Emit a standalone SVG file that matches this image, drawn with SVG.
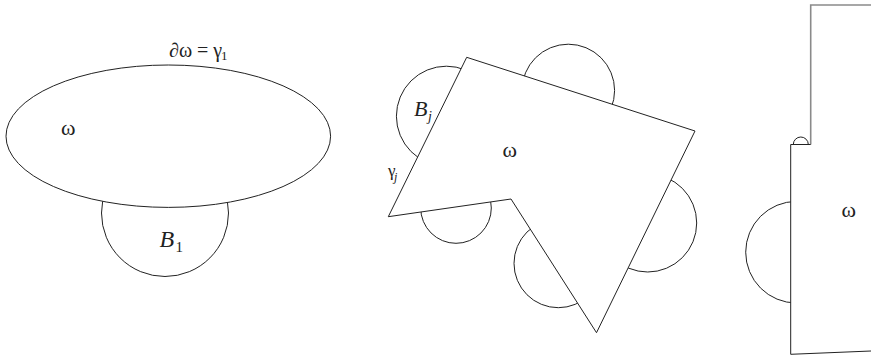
<svg xmlns="http://www.w3.org/2000/svg" width="871" height="359" viewBox="0 0 871 359">
<style>
.sh{fill:#fff;stroke:#222;stroke-width:1}
.cover{fill:#fff;stroke:none}
.ln{fill:none;stroke:#222;stroke-width:1}
.gray{fill:none;stroke:#8a8a8a;stroke-width:1.6}
.t{font-family:"Liberation Serif","Times New Roman",serif;fill:#222}
.it{font-style:italic}
.om{font-size:22px}
</style>
<rect width="871" height="359" fill="#fff"/>
<g id="left-domain">
<circle class="sh" cx="165" cy="213" r="63.5"/>
<ellipse class="sh" cx="168.3" cy="136.2" rx="162.3" ry="71.2"/>
<text class="t" x="169" y="56.7" font-size="20">∂ω = γ</text>
<text class="t" x="221" y="59.5" font-size="13">1</text>
<text class="t om" x="61" y="135">ω</text>
<text class="t it" x="159.5" y="246.7" font-size="24">B</text>
<text class="t" x="175.5" y="251.7" font-size="15">1</text>
</g>
<g id="middle-domain">
<circle class="sh" cx="446.4" cy="116.2" r="50"/>
<circle class="sh" cx="568.3" cy="90.5" r="46.3"/>
<circle class="sh" cx="647.7" cy="223" r="49"/>
<circle class="sh" cx="558.3" cy="263.4" r="44.3"/>
<circle class="sh" cx="456" cy="208" r="35.3"/>
<polygon class="sh" points="466.7,57.3 695,131 596.5,332.7 511,199 388.3,216.7"/>
<text class="t it" x="414" y="116" font-size="22">B</text>
<text class="t it" x="428" y="121" font-size="14">j</text>
<text class="t" x="388" y="176" font-size="17">γ</text>
<text class="t it" x="394" y="181" font-size="12">j</text>
<text class="t om" x="502.5" y="156.7">ω</text>
</g>
<g id="right-domain">
<circle class="sh" cx="800.8" cy="144.5" r="7.5"/>
<circle class="sh" cx="796.5" cy="252.2" r="50.8"/>
<polygon class="cover" points="871,5 810.7,5 810.7,144.5 790.7,144.5 790.7,354.3 871,351"/>
<path class="gray" d="M871 5H810.7V144.5"/>
<path class="ln" d="M810.7 144.5H790.7V354.3L871 351"/>
<text class="t om" x="841.5" y="216.7">ω</text>
</g>
<g id="connectors"/>
</svg>
